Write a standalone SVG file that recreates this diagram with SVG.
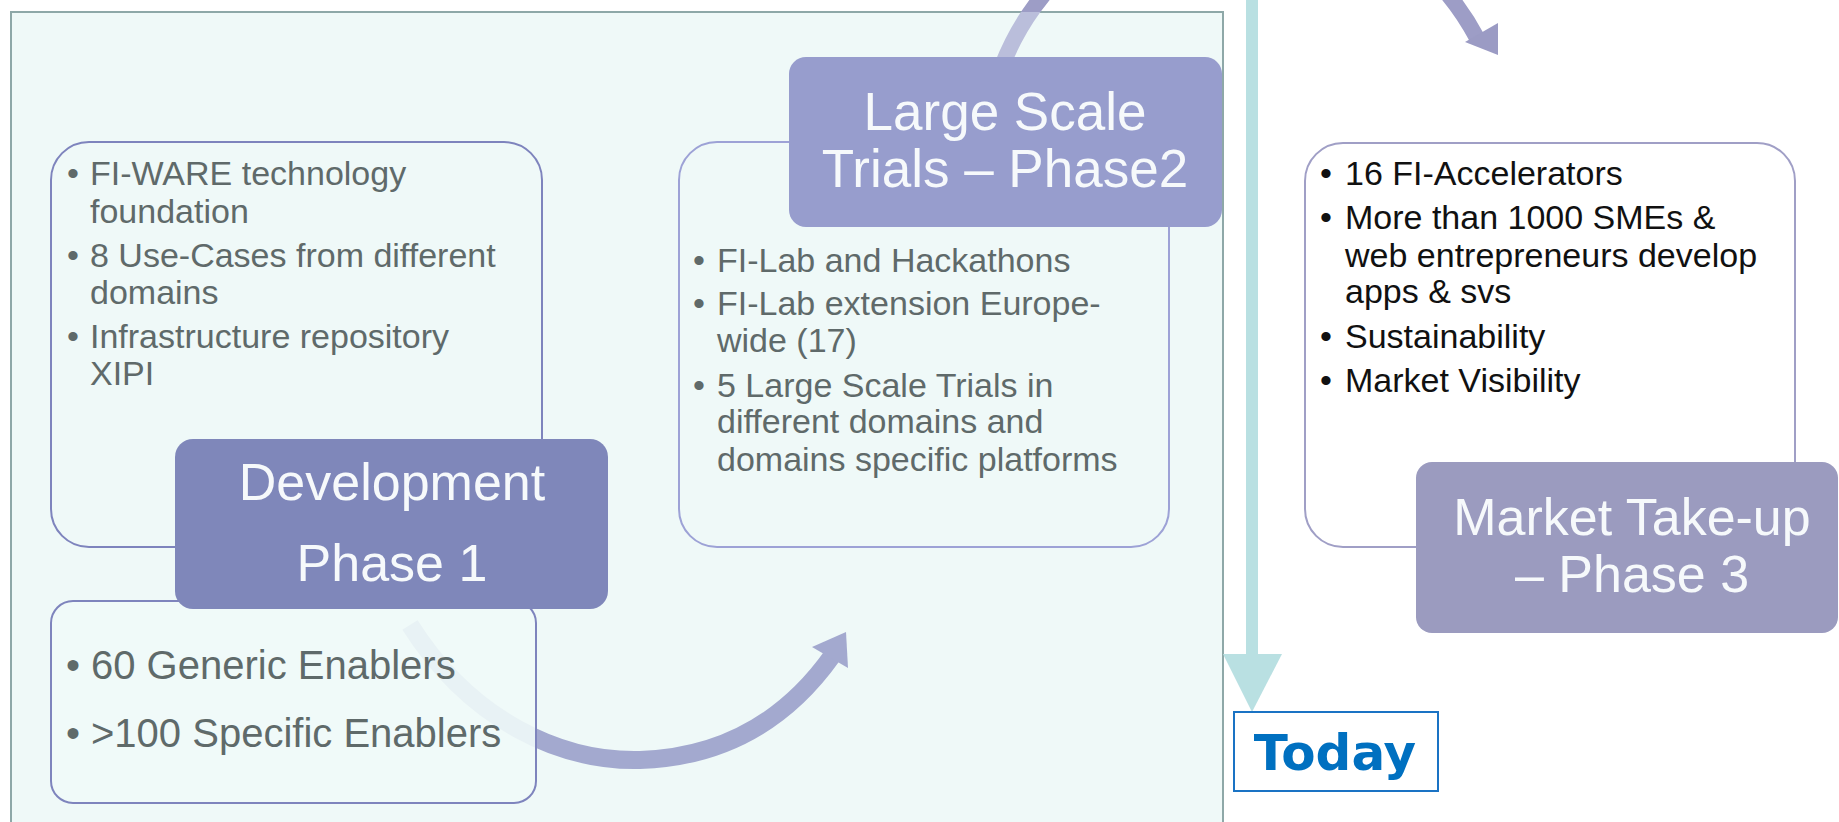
<svg xmlns="http://www.w3.org/2000/svg" width="1839" height="822" viewBox="0 0 1839 822">
<defs>
<style>
.body{font-family:"Liberation Sans",Arial,sans-serif;font-size:34px;fill:#5f6a6a}
.dark{fill:#111111}
.big{font-size:40px}
.title{font-family:"Liberation Sans",Arial,sans-serif;font-size:53px;fill:#f6f9fb;text-anchor:middle}
.cbox{stroke-width:2}
</style>
<clipPath id="inPanel"><rect x="11" y="12" width="1212" height="830"/></clipPath>
<clipPath id="outPanel"><path d="M0 0H1839V822H0ZM11 12V842H1223V12Z" clip-rule="evenodd"/></clipPath>
</defs>
<rect width="1839" height="822" fill="#ffffff"/>
<rect id="panel" x="11" y="12" width="1212" height="830" fill="#eff9f8" stroke="#8ea8a8" stroke-width="2"/>
<g id="connectors">
  <g id="arrow-top">
    <path d="M 1002 66 A 262 262 0 0 1 1477 38" fill="none" stroke="#9d9dc6" stroke-width="16" clip-path="url(#outPanel)"/>
    <path d="M 1002 66 A 262 262 0 0 1 1477 38" fill="none" stroke="#babedb" stroke-width="16" clip-path="url(#inPanel)"/>
    <polygon points="1465,42 1498,23 1498,55" fill="#9b9bc4"/>
  </g>
  <g id="arrow-lower">
    <path d="M 410 625 C 470 720, 560 762, 640 760 C 730 757, 790 715, 832 656" fill="none" stroke="#a3a9cf" stroke-width="18"/>
    <polygon points="812,647 846,632 848,668" fill="#a3a9cf"/>
  </g>
  <g id="arrow-today">
    <rect x="1246" y="0" width="12" height="655" fill="#b9e0e2"/>
    <polygon points="1223,654 1282,654 1252,712" fill="#b9e0e2"/>
  </g>
</g>
<g id="box-phase1-details">
  <rect class="cbox" x="51" y="142" width="491" height="405" rx="38" fill="#eff9f8" stroke="#7e84bd"/>
  <g class="body">
    <text x="67" y="185">•</text><text x="90" y="185">FI-WARE technology</text>
    <text x="90" y="223">foundation</text>
    <text x="67" y="267">•</text><text x="90" y="267">8 Use-Cases from different</text>
    <text x="90" y="304">domains</text>
    <text x="67" y="348">•</text><text x="90" y="348">Infrastructure repository</text>
    <text x="90" y="385">XIPI</text>
  </g>
</g>
<g id="box-phase2-details">
  <rect class="cbox" x="679" y="142" width="490" height="405" rx="38" fill="#eff9f8" stroke="#9da2d6"/>
  <g class="body">
    <text x="693" y="272">•</text><text x="717" y="272">FI-Lab and Hackathons</text>
    <text x="693" y="315">•</text><text x="717" y="315">FI-Lab extension Europe-</text>
    <text x="717" y="352">wide (17)</text>
    <text x="693" y="397">•</text><text x="717" y="397">5 Large Scale Trials in</text>
    <text x="717" y="433">different domains and</text>
    <text x="717" y="471">domains specific platforms</text>
  </g>
</g>
<g id="box-enablers">
  <rect class="cbox" x="51" y="601" width="485" height="202" rx="22" fill="#f0f9f8" fill-opacity="0.9" stroke="#7e84bd"/>
  <g class="body big">
    <text x="66" y="679">•</text><text x="91" y="679">60 Generic Enablers</text>
    <text x="66" y="747">•</text><text x="91" y="747">&gt;100 Specific Enablers</text>
  </g>
</g>
<g id="node-development">
  <rect x="175" y="439" width="433" height="170" rx="18" fill="#7f87ba"/>
  <text class="title" x="392" y="500" style="font-size:52px">Development</text>
  <text class="title" x="392" y="581" style="font-size:52px">Phase 1</text>
</g>
<g id="node-trials">
  <rect x="789" y="57" width="433" height="170" rx="17" fill="#979dcd"/>
  <text class="title" x="1005" y="130">Large Scale</text>
  <text class="title" x="1005" y="187">Trials – Phase2</text>
</g>
<g id="box-phase3-details">
  <rect class="cbox" x="1305" y="143" width="490" height="404" rx="38" fill="#ffffff" stroke="#a09fc6"/>
  <g class="body dark">
    <text x="1320" y="185">•</text><text x="1345" y="185">16 FI-Accelerators</text>
    <text x="1320" y="229">•</text><text x="1345" y="229">More than 1000 SMEs &amp;</text>
    <text x="1345" y="267">web entrepreneurs develop</text>
    <text x="1345" y="303">apps &amp; svs</text>
    <text x="1320" y="348">•</text><text x="1345" y="348">Sustainability</text>
    <text x="1320" y="392">•</text><text x="1345" y="392">Market Visibility</text>
  </g>
</g>
<g id="node-market">
  <rect x="1416" y="462" width="422" height="171" rx="16" fill="#9b9bbf"/>
  <text class="title" x="1632" y="535" style="font-size:52px">Market Take-up</text>
  <text class="title" x="1632" y="592" style="font-size:52px">– Phase 3</text>
</g>
<g id="node-today">
  <rect x="1234" y="712" width="204" height="79" fill="#ffffff" stroke="#1a73c4" stroke-width="2"/>
  <text x="1335" y="770" text-anchor="middle" style="font-family:'DejaVu Sans',Verdana,sans-serif;font-weight:bold;font-size:50px;fill:#0070c0">Today</text>
</g>
</svg>
